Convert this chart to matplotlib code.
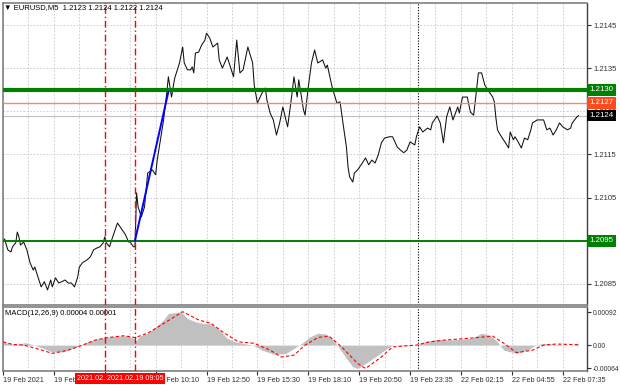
import matplotlib
matplotlib.use('Agg')
import matplotlib.pyplot as plt
import matplotlib.transforms as mtransforms

plt.rcParams['font.family'] = ['Liberation Sans', 'DejaVu Sans']

# EURUSD M5 close prices (bar index -> price)
price_bars = [0, 1, 3, 5, 6, 8, 9, 10, 11, 13, 15, 17, 19, 20, 22, 24, 26, 28, 30, 31,
              33, 35, 37, 39, 41, 43, 45, 47, 48, 50, 53, 55, 57, 59, 61, 63, 64, 65, 67, 69,
              72, 75, 77, 79, 80, 82, 83, 84, 85, 87, 89, 91, 94, 96, 97, 99, 101, 103, 104, 106,
              107, 108, 111, 113, 114, 116, 118, 119, 120, 121, 123, 125, 127, 128, 130, 132, 135, 136, 138, 141,
              143, 145, 147, 149, 151, 154, 157, 158, 160, 163, 165, 166, 168, 170, 172, 174, 176, 179, 181, 183,
              185, 186, 189, 190, 192, 194, 196, 198, 201, 203, 204, 207, 210, 212, 214, 216, 217, 218, 220, 221,
              223, 226, 228, 230, 232, 234, 236, 238, 240, 243, 245, 248, 250, 252, 254, 256, 259, 260, 262, 264,
              267, 269, 270, 273, 275, 277, 279, 281, 283, 286, 287, 289, 292, 294, 296, 297, 299, 301, 303, 305,
              308, 309, 310, 311, 312, 314, 316, 318, 319, 321, 322, 324, 326, 328, 330, 332, 333, 336, 338, 340,
              342, 344, 346, 348, 350, 352, 355, 357, 358, 361, 362]
price_close = [1.20947, 1.20954, 1.20929, 1.20924, 1.20936, 1.20945, 1.20970, 1.20959, 1.20940, 1.20947,
               1.20929, 1.20899, 1.20882, 1.20889, 1.20866, 1.20843, 1.20855, 1.20836, 1.20859, 1.20843,
               1.20864, 1.20852, 1.20855, 1.20859, 1.20852, 1.20852, 1.20843, 1.20866, 1.20889, 1.20899,
               1.20906, 1.20913, 1.20929, 1.20933, 1.20936, 1.20945, 1.20959, 1.20945, 1.20936, 1.20959,
               1.20991, 1.20975, 1.20964, 1.20947, 1.20947, 1.20936, 1.20936, 1.21061, 1.21028, 1.21005,
               1.21028, 1.21107, 1.21114, 1.21103, 1.21137, 1.21184, 1.21230, 1.21293, 1.21330, 1.21283,
               1.21306, 1.21327, 1.21362, 1.21399, 1.21362, 1.21346, 1.21346, 1.21353, 1.21339, 1.21385,
               1.21387, 1.21404, 1.21415, 1.21431, 1.21420, 1.21399, 1.21408, 1.21369, 1.21350, 1.21376,
               1.21353, 1.21330, 1.21415, 1.21339, 1.21346, 1.21399, 1.21362, 1.21311, 1.21269, 1.21293,
               1.21304, 1.21276, 1.21246, 1.21230, 1.21195, 1.21223, 1.21260, 1.21214, 1.21269, 1.21330,
               1.21283, 1.21323, 1.21253, 1.21241, 1.21306, 1.21362, 1.21392, 1.21362, 1.21369, 1.21350,
               1.21357, 1.21306, 1.21269, 1.21272, 1.21218, 1.21167, 1.21121, 1.21098, 1.21086, 1.21107,
               1.21114, 1.21130, 1.21142, 1.21126, 1.21137, 1.21130, 1.21149, 1.21177, 1.21188, 1.21191,
               1.21191, 1.21167, 1.21160, 1.21154, 1.21160, 1.21179, 1.21172, 1.21191, 1.21214, 1.21202,
               1.21211, 1.21207, 1.21223, 1.21239, 1.21223, 1.21177, 1.21237, 1.21260, 1.21230, 1.21260,
               1.21246, 1.21283, 1.21283, 1.21248, 1.21241, 1.21272, 1.21339, 1.21339, 1.21311, 1.21299,
               1.21283, 1.21272, 1.21235, 1.21207, 1.21200, 1.21188, 1.21177, 1.21165, 1.21202, 1.21184,
               1.21191, 1.21179, 1.21165, 1.21188, 1.21184, 1.21207, 1.21223, 1.21230, 1.21230, 1.21230,
               1.21207, 1.21211, 1.21195, 1.21207, 1.21223, 1.21214, 1.21207, 1.21211, 1.21223, 1.21237,
               1.21240]

# MACD histogram and signal line
hist_bars = [0, 3, 8, 12, 14, 18, 23, 31, 38, 44, 48, 53, 58, 63, 71, 78, 82, 84, 86, 91,
             96, 101, 104, 108, 112, 116, 121, 126, 131, 136, 141, 146, 151, 157, 163, 171, 178, 183, 188, 193,
             198, 203, 207, 211, 216, 220, 223, 228, 234, 240, 245, 253, 260, 265, 273, 280, 288, 295, 301, 306,
             310, 315, 323, 330, 335, 340, 348, 358, 362]
hist_vals = [0.00009, 0.00005, 0.00002, 0.00005, 0.00007, 0.00002, -0.00005, -0.00019, -0.00019, -0.00009,
             -0.00003, 0.00009, 0.00016, 0.00020, 0.00025, 0.00026, 0.00019, 0.00012, 0.00025, 0.00033,
             0.00051, 0.00070, 0.00088, 0.00090, 0.00093, 0.00074, 0.00065, 0.00060, 0.00059, 0.00042,
             0.00019, 0.00009, 0.00005, 0.0, -0.00014, -0.00026, -0.00023, -0.00009, 0.00005, 0.00023,
             0.00033, 0.00031, 0.00019, -0.00005, -0.00037, -0.00060, -0.00065, -0.00051, -0.00033, -0.00014,
             0.0, 0.00002, 0.0, 0.00009, 0.00016, 0.00014, 0.00016, 0.00019, 0.00033, 0.00028,
             0.00014, -0.00014, -0.00023, -0.00014, 0.0, 0.00005, 0.00002, 0.0, 0.00004]
signal_bars = [0, 6, 13, 23, 31, 41, 50, 58, 66, 76, 83, 91, 101, 113, 123, 131, 138, 148, 158, 168,
               175, 183, 190, 198, 205, 213, 223, 228, 238, 245, 260, 268, 278, 293, 308, 315, 323, 333, 340, 348,
               362]
signal_vals = [0.00009, 0.00002, 0.0, -0.00012, -0.00023, -0.00014, 0.0, 0.00014, 0.00021, 0.00026,
               0.00021, 0.00033, 0.00060, 0.00093, 0.00070, 0.00060, 0.00037, 0.00009, 0.00005, -0.00014,
               -0.00033, -0.00028, 0.0, 0.00021, 0.00025, -0.00005, -0.00051, -0.00065, -0.00033, -0.00005,
               0.0, 0.00009, 0.00014, 0.00019, 0.00025, 0.00005, -0.00021, -0.00014, 0.0, 0.00003,
               0.00001]

resistance = 1.2130
target = 1.2127
support = 1.2095
last_price = 1.2124
entry_bars = [64, 83]
entry_labels = ['2021.02.19 07:30', '2021.02.19 09:05']
day_sep_bar = 261
trend_bars = [83, 104]
trend_prices = [1.2095, 1.21295]

price_ticks = [1.2085, 1.2095, 1.2105, 1.2115, 1.2125, 1.2135, 1.2145]
macd_ticks = [-0.00064, 0.0, 0.00092]
macd_tick_labels = ['-0.00064', '0.00', '0.00092']
time_bars = [0, 32, 64, 96, 128, 160, 192, 224, 256, 288, 320, 352]
time_labels = ['19 Feb 2021', '19 Feb 04:50', '19 Feb 07:30', '19 Feb 10:10', '19 Feb 12:50',
               '19 Feb 15:30', '19 Feb 18:10', '19 Feb 20:50', '19 Feb 23:35', '22 Feb 02:15',
               '22 Feb 04:55', '22 Feb 07:35']

W, H = 620, 388
fig = plt.figure(figsize=(6.2, 3.88), dpi=100)
ax = fig.add_axes([3 / W, 1 - 305 / H, 584 / W, 302 / H])
mx = fig.add_axes([3 / W, 1 - 371 / H, 584 / W, 64 / H], sharex=ax)

grid_bars = list(range(0, 368, 16))
grid_kw = dict(color='#c8c8c8', lw=0.6, ls=(0, (2, 2)), zorder=0)
for b in grid_bars:
    if b in entry_bars:
        continue
    ax.axvline(b, **grid_kw)
    mx.axvline(b, **grid_kw)
for p in price_ticks:
    ax.axhline(p, **grid_kw)

# main price panel
ax.plot(price_bars, price_close, color='#101010', lw=0.75, zorder=3)
ax.axhline(resistance, color='#008000', lw=3, zorder=4)
ax.axhline(target, color='#f58a6a', lw=1, zorder=4)
ax.axhline(last_price, color='#c0c0c0', lw=0.8, zorder=2)
ax.axhline(support, color='#008000', lw=1.4, zorder=4)
ax.plot(trend_bars, trend_prices, color='blue', lw=1.4, zorder=5)
vl_kw = dict(color='#ff0000', lw=1.0, ls=(0, (5, 2, 1, 2)), zorder=4)
for b in entry_bars:
    ax.axvline(b, **vl_kw)
    mx.axvline(b, **vl_kw)
ax.axvline(day_sep_bar, color='black', lw=0.8, ls=(0, (1, 1.5)), zorder=2)
mx.axvline(day_sep_bar, color='black', lw=0.8, ls=(0, (1, 1.5)), zorder=2)

ax.set_xlim(0, 367.3)
ax.set_ylim(1.20801, 1.21501)
ax.set_yticks(price_ticks)
# labels under the coloured tags are hidden by the tags themselves
ax.set_yticklabels(['' if p == support else f'{p:.4f}' for p in price_ticks])
ax.yaxis.tick_right()
ax.tick_params(axis='y', labelsize=5.5, length=3, pad=2, colors='#303030')
ax.tick_params(axis='x', bottom=False, labelbottom=False)

tr = mtransforms.blended_transform_factory(ax.transAxes, ax.transData)
tags = [(resistance, '#008000'), (target, '#ff4a1a'), (last_price, 'black'), (support, '#008000')]
for val, col in tags:
    ax.text(1.004, val, f'{val:.4f}', transform=tr, color='white', fontsize=5.7,
            va='center', ha='left', clip_on=False, zorder=10,
            bbox=dict(boxstyle='square,pad=0.3', fc=col, ec='none'))

fig.text(4 / W, 1 - 8 / H, '\u25bc EURUSD,M5  1.2123 1.2124 1.2122 1.2124',
         fontsize=5.5, va='center', ha='left', color='black')

# MACD panel
mx.fill_between(hist_bars, 0, hist_vals, color='#c0c0c0', lw=0, zorder=1)
mx.plot(signal_bars, signal_vals, color='red', lw=0.8, ls=(0, (3, 2)), zorder=3)
mx.set_ylim(-0.00072, 0.00106)
mx.set_yticks(macd_ticks)
mx.set_yticklabels(macd_tick_labels)
mx.yaxis.tick_right()
mx.tick_params(axis='y', labelsize=4.9, length=3, pad=1, colors='#303030')
mx.set_xticks(time_bars)
mx.set_xticklabels(['' if b in entry_bars else lab for b, lab in zip(time_bars, time_labels)], ha='left')
mx.tick_params(axis='x', labelsize=5.2, length=3, pad=1, colors='#303030')
mx.text(0.004, 0.9, 'MACD(12,26,9) 0.00004 0.00001', transform=mx.transAxes,
        fontsize=5.5, va='center', ha='left')

trx = mtransforms.blended_transform_factory(mx.transData, mx.transAxes)
for b, lab in zip(entry_bars, entry_labels):
    mx.text(b, -0.12, lab, transform=trx, color='white', fontsize=5.2, ha='center', va='center',
            clip_on=False, zorder=10 + b,
            bbox=dict(boxstyle='square,pad=0.25', fc='#ff0000', ec='none'))

for a in (ax, mx):
    for s in a.spines.values():
        s.set_color('#808080')
        s.set_linewidth(1.2)
    a.spines['right'].set_color('#404040')
    a.spines['right'].set_linewidth(1.0)

fig.savefig('out.png', dpi=100, facecolor='white')
